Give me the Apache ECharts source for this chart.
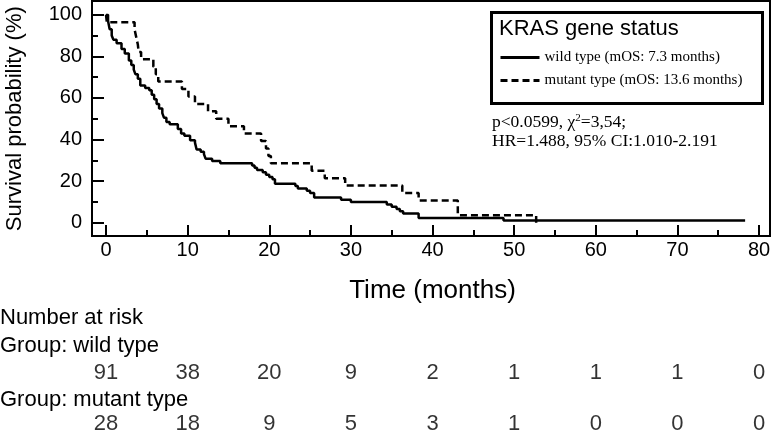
<!DOCTYPE html>
<html>
<head>
<meta charset="utf-8">
<script src="https://cdn.jsdelivr.net/npm/echarts@6/dist/echarts.min.js"></script>
<style>html,body{margin:0;padding:0;background:#fff;}#c{width:774px;height:433px;}</style>
</head>
<body>
<div id="c"></div>
<script>
// ---- data ----
const xTicks = [0, 10, 20, 30, 40, 50, 60, 70, 80];
const yTicks = [0, 20, 40, 60, 80, 100];
const wildName = 'wild type (mOS: 7.3 months)';
const mutantName = 'mutant type (mOS: 13.6 months)';
// Kaplan-Meier steps [time (months), survival (%)]
const wildTime = [0,0.25,0.45,0.7,0.9,1.3,1.9,2.3,2.8,3.1,3.4,3.6,3.9,4.2,4.8,5.3,5.6,5.9,6.2,6.5,6.9,7.1,7.4,7.8,8.8,9.2,9.6,10.3,10.9,11.1,11.6,12.0,12.2,13.0,14.0,17.9,18.2,18.5,19.2,19.6,20.0,20.4,20.7,23.2,23.5,24.6,25.0,25.5,28.8,30.0,34.4,35.0,35.6,36.0,36.4,38.3,48.7,78.3];
const wildSurv = [100,97,93,90,88,86.3,83.5,81.3,78,75.8,73.6,71.4,69.2,66,64.8,63.7,61.5,59.3,57.1,54.9,52.7,50.5,48.4,47.3,45.1,42.9,41.8,39.6,38.5,35.2,34.1,33,30.8,29.7,28.6,27.5,26.4,25.3,24.2,23.1,22,20.9,18.7,17.6,16.5,15.4,14.3,12.1,11,9.9,8.8,7.7,6.6,5.5,4.4,2.2,1.1,1.1];
const mutantTime = [0,0.1,3.5,3.7,3.9,4.0,4.3,5.8,6.1,6.4,9.3,10.1,10.9,12.5,13.5,15.0,16.9,19.0,19.6,19.9,20.2,25.2,26.8,29.3,36.3,38.3,43.1,52.7];
const mutantSurv = [100,96.4,92.9,89.3,85.7,82.1,78.6,75,71.4,67.9,64.3,60.7,57.1,53.6,50,46.4,42.9,39.3,35.7,32.1,28.6,25,21.4,17.9,14.3,10.7,3.6,0];
// number at risk
const riskTimes = [0, 10, 20, 30, 40, 50, 60, 70, 80];
const riskWild = [91, 38, 20, 9, 2, 1, 1, 1, 0];
const riskMutant = [28, 18, 9, 5, 3, 1, 0, 0, 0];

const zip = (a, b) => a.map((v, i) => [v, b[i]]);
const riskData = riskTimes.map((t, i) => [t, 1, riskWild[i]])
  .concat(riskTimes.map((t, i) => [t, 0, riskMutant[i]]));

const chart = echarts.init(document.getElementById('c'), null, {renderer: 'canvas'});
const sans = 'Liberation Sans, Arial, sans-serif';
const serif = 'Liberation Serif, Times New Roman, serif';

chart.setOption({
  animation: false,
  backgroundColor: '#fff',
  grid: [
    {left: 106, top: 14.7, width: 653, height: 208, outerBoundsMode: 'none', containLabel: false},
    {left: 92, top: 1, width: 678, height: 235, show: true, borderColor: '#000', borderWidth: 2, backgroundColor: 'transparent', outerBoundsMode: 'none'},
    {left: 106, top: 373, width: 653, height: 51, outerBoundsMode: 'none'}
  ],
  xAxis: [
    {type: 'value', gridIndex: 0, min: 0, max: 80, interval: 10, offset: 13.3,
     axisLine: {show: false, onZero: false},
     axisTick: {show: true, inside: true, length: 11, lineStyle: {color: '#000', width: 2}},
     minorTick: {show: true, splitNumber: 2, length: 6, lineStyle: {color: '#000', width: 2}},
     splitLine: {show: false},
     axisLabel: {color: '#000', fontSize: 20, fontFamily: sans, margin: 4},
     name: 'Time (months)', nameLocation: 'middle', nameGap: 42,
     nameTextStyle: {color: '#000', fontSize: 26, fontFamily: sans}},
    {type: 'value', gridIndex: 1, min: 0, max: 1, show: false},
    {type: 'value', gridIndex: 2, min: 0, max: 80, show: false}
  ],
  yAxis: [
    {type: 'value', gridIndex: 0, min: 0, max: 100, interval: 20, offset: 14,
     axisLine: {show: false, onZero: false},
     axisTick: {show: true, inside: true, length: 12, lineStyle: {color: '#000', width: 2}},
     minorTick: {show: true, splitNumber: 2, length: 6, lineStyle: {color: '#000', width: 2}},
     splitLine: {show: false},
     axisLabel: {color: '#000', fontSize: 20, fontFamily: sans, margin: 10},
     name: 'Survival probability (%)', nameLocation: 'middle', nameGap: 66,
     nameTextStyle: {color: '#000', fontSize: 22, fontFamily: sans}},
    {type: 'value', gridIndex: 1, min: 0, max: 1, show: false},
    {type: 'value', gridIndex: 2, min: 0, max: 1, show: false}
  ],
  legend: {
    orient: 'vertical', left: 499, top: 50, itemWidth: 39, itemHeight: 14, itemGap: 8, padding: 0,
    data: [wildName, mutantName],
    itemStyle: {opacity: 0},
    lineStyle: {width: 3},
    textStyle: {color: '#000', fontSize: 15, fontFamily: serif}
  },
  series: [
    {name: wildName, type: 'line', step: 'end', xAxisIndex: 0, yAxisIndex: 0,
     data: zip(wildTime, wildSurv), showSymbol: false, symbol: 'none',
     lineStyle: {color: '#000', width: 2.5}, itemStyle: {color: '#000'}},
    {name: mutantName, type: 'line', step: 'end', xAxisIndex: 0, yAxisIndex: 0,
     data: zip(mutantTime, mutantSurv), showSymbol: false, symbol: 'none',
     lineStyle: {color: '#000', width: 2.5, type: [7, 4]}, itemStyle: {color: '#000'}},
    {type: 'scatter', xAxisIndex: 2, yAxisIndex: 2, data: riskData, symbolSize: 1,
     itemStyle: {color: 'rgba(0,0,0,0)'},
     label: {show: true, position: 'inside', color: '#000', fontSize: 22, fontFamily: sans,
             formatter: p => String(p.value[2])}}
  ],
  graphic: [
    {type: 'rect', left: 490, top: 11, shape: {width: 271, height: 91},
     style: {fill: 'rgba(0,0,0,0)', stroke: '#000', lineWidth: 3}, z: 10},
    {type: 'text', left: 499, top: 18, style: {text: 'KRAS gene status', fill: '#000', font: '22px ' + sans}},
    {type: 'text', left: 492, top: 113, style: {
      text: 'p<0.0599, χ{sup|2}=3,54;\nHR=1.488, 95% CI:1.010-2.191',
      fill: '#000', font: '17.5px ' + serif, lineHeight: 19,
      rich: {sup: {fontSize: 11, fontFamily: serif, verticalAlign: 'top', padding: [0, 0, 8, 0]}}
    }},
    {type: 'text', left: 0, top: 307, style: {text: 'Number at risk', fill: '#000', font: '22px ' + sans}},
    {type: 'text', left: 0, top: 335, style: {text: 'Group: wild type', fill: '#000', font: '22px ' + sans}},
    {type: 'text', left: 0, top: 389, style: {text: 'Group: mutant type', fill: '#000', font: '22px ' + sans}}
  ]
});
</script>
</body>
</html>
